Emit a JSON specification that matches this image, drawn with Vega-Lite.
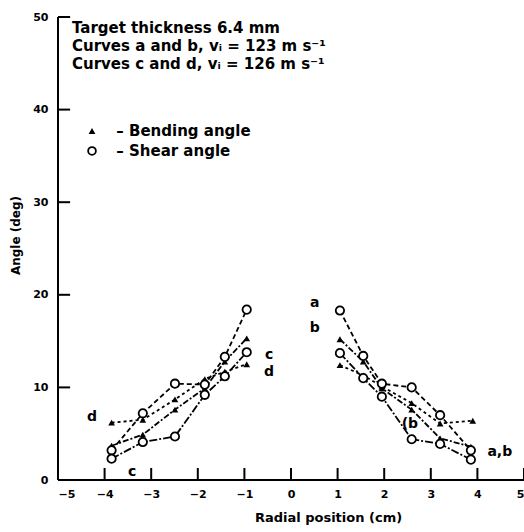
{
  "$schema": "https://vega.github.io/schema/vega-lite/v6.json",
  "width": 466,
  "height": 463,
  "autosize": "none",
  "padding": {"left": 58, "top": 17, "right": 0, "bottom": 52},
  "background": "white",
  "config": {
    "view": {"stroke": null},
    "axis": {
      "grid": false,
      "labelColor": "black",
      "titleColor": "black",
      "labelFont": "DejaVu Sans",
      "titleFont": "DejaVu Sans",
      "labelFontWeight": "bold",
      "titleFontWeight": "bold"
    }
  },
  "datasets": {
    "pts": [
      {"curve": "a", "side": "L", "marker": "circle", "x": -3.85, "y": 3.2},
      {"curve": "a", "side": "L", "marker": "circle", "x": -3.18, "y": 7.2},
      {"curve": "a", "side": "L", "marker": "circle", "x": -2.49, "y": 10.4},
      {"curve": "a", "side": "L", "marker": "circle", "x": -1.85, "y": 10.3},
      {"curve": "a", "side": "L", "marker": "circle", "x": -1.42, "y": 13.3},
      {"curve": "a", "side": "L", "marker": "circle", "x": -0.95, "y": 18.4},
      {"curve": "a", "side": "R", "marker": "circle", "x": 1.05, "y": 18.3},
      {"curve": "a", "side": "R", "marker": "circle", "x": 1.55, "y": 13.4},
      {"curve": "a", "side": "R", "marker": "circle", "x": 1.95, "y": 10.4},
      {"curve": "a", "side": "R", "marker": "circle", "x": 2.59, "y": 10.0},
      {"curve": "a", "side": "R", "marker": "circle", "x": 3.2, "y": 7.0},
      {"curve": "a", "side": "R", "marker": "circle", "x": 3.86, "y": 3.2},
      {"curve": "b", "side": "L", "marker": "triangle", "x": -3.85, "y": 3.7},
      {"curve": "b", "side": "L", "marker": "triangle", "x": -3.18, "y": 4.9},
      {"curve": "b", "side": "L", "marker": "triangle", "x": -2.49, "y": 7.6},
      {"curve": "b", "side": "L", "marker": "triangle", "x": -1.85, "y": 9.9},
      {"curve": "b", "side": "L", "marker": "triangle", "x": -1.42, "y": 12.8},
      {"curve": "b", "side": "L", "marker": "triangle", "x": -0.95, "y": 15.3},
      {"curve": "b", "side": "R", "marker": "triangle", "x": 1.05, "y": 15.2},
      {"curve": "b", "side": "R", "marker": "triangle", "x": 1.55, "y": 12.8},
      {"curve": "b", "side": "R", "marker": "triangle", "x": 1.95, "y": 9.9},
      {"curve": "b", "side": "R", "marker": "triangle", "x": 2.59, "y": 7.6},
      {"curve": "b", "side": "R", "marker": "triangle", "x": 3.2, "y": 4.5},
      {"curve": "b", "side": "R", "marker": "triangle", "x": 3.86, "y": 3.6},
      {"curve": "c", "side": "L", "marker": "circle", "x": -3.85, "y": 2.3},
      {"curve": "c", "side": "L", "marker": "circle", "x": -3.18, "y": 4.1},
      {"curve": "c", "side": "L", "marker": "circle", "x": -2.49, "y": 4.7},
      {"curve": "c", "side": "L", "marker": "circle", "x": -1.85, "y": 9.2},
      {"curve": "c", "side": "L", "marker": "circle", "x": -1.42, "y": 11.2},
      {"curve": "c", "side": "L", "marker": "circle", "x": -0.95, "y": 13.8},
      {"curve": "c", "side": "R", "marker": "circle", "x": 1.05, "y": 13.7},
      {"curve": "c", "side": "R", "marker": "circle", "x": 1.55, "y": 11.0},
      {"curve": "c", "side": "R", "marker": "circle", "x": 1.95, "y": 9.0},
      {"curve": "c", "side": "R", "marker": "circle", "x": 2.59, "y": 4.4},
      {"curve": "c", "side": "R", "marker": "circle", "x": 3.2, "y": 3.9},
      {"curve": "c", "side": "R", "marker": "circle", "x": 3.86, "y": 2.2},
      {"curve": "d", "side": "L", "marker": "triangle", "x": -3.85, "y": 6.2},
      {"curve": "d", "side": "L", "marker": "triangle", "x": -3.18, "y": 6.5},
      {"curve": "d", "side": "L", "marker": "triangle", "x": -2.49, "y": 8.7},
      {"curve": "d", "side": "L", "marker": "triangle", "x": -1.85, "y": 10.9},
      {"curve": "d", "side": "L", "marker": "triangle", "x": -1.42, "y": 11.7},
      {"curve": "d", "side": "L", "marker": "triangle", "x": -0.95, "y": 12.5},
      {"curve": "d", "side": "R", "marker": "triangle", "x": 1.05, "y": 12.4},
      {"curve": "d", "side": "R", "marker": "triangle", "x": 1.55, "y": 11.3},
      {"curve": "d", "side": "R", "marker": "triangle", "x": 1.95, "y": 10.1},
      {"curve": "d", "side": "R", "marker": "triangle", "x": 2.59, "y": 8.3},
      {"curve": "d", "side": "R", "marker": "triangle", "x": 3.2, "y": 6.1},
      {"curve": "d", "side": "R", "marker": "triangle", "x": 3.9, "y": 6.4}
    ],
    "axisLines": [{"axis": "x"}],
    "xticks": [{"v": -4}, {"v": -3}, {"v": -2}, {"v": -1}, {"v": 0}, {"v": 1}, {"v": 2}, {"v": 3}, {"v": 4}, {"v": 5}],
    "yticks": [{"v": 10}, {"v": 20}, {"v": 30}, {"v": 40}, {"v": 50}],
    "header": [
      {"x": -4.7, "y": 48.3, "t": "Target thickness 6.4 mm"},
      {"x": -4.7, "y": 46.36, "t": "Curves  a  and  b,  vᵢ = 123 m s⁻¹"},
      {"x": -4.7, "y": 44.38, "t": "Curves  c  and  d,  vᵢ = 126 m s⁻¹"}
    ],
    "legendText": [
      {"x": -3.75, "y": 37.69, "t": "–  Bending angle"},
      {"x": -3.75, "y": 35.53, "t": "–  Shear angle"}
    ],
    "legendMarks": [
      {"x": -4.27, "y": 37.69, "marker": "triangle"},
      {"x": -4.27, "y": 35.53, "marker": "circle"}
    ],
    "labels": [
      {"x": 0.51, "y": 19.1, "t": "a"},
      {"x": 0.51, "y": 16.4, "t": "b"},
      {"x": -0.47, "y": 13.5, "t": "c"},
      {"x": -0.47, "y": 11.7, "t": "d"},
      {"x": 4.48, "y": 3.0, "t": "a,b"},
      {"x": 2.55, "y": 6.1, "t": "(b"},
      {"x": -4.27, "y": 6.8, "t": "d"},
      {"x": -3.41, "y": 0.9, "t": "c"}
    ]
  },
  "layer": [
    {
      "data": {"name": "pts"},
      "mark": {"type": "line", "color": "black", "strokeWidth": 1.8},
      "encoding": {
        "x": {
          "field": "x", "type": "quantitative",
          "scale": {"domain": [-5, 5], "nice": false, "zero": false},
          "axis": {
            "values": [-5, -4, -3, -2, -1, 0, 1, 2, 3, 4, 5],
            "domain": false,
            "ticks": false,
            "labelPadding": 8,
            "labelFontSize": 11,
            "title": "Radial position (cm)",
            "titleFontSize": 13,
            "titleX": 270,
            "titlePadding": 12
          }
        },
        "y": {
          "field": "y", "type": "quantitative",
          "scale": {"domain": [0, 50], "nice": false, "zero": false},
          "axis": {
            "values": [0, 10, 20, 30, 40, 50],
            "domain": false,
            "ticks": false,
            "labelPadding": 10,
            "labelFontSize": 11,
            "title": "Angle (deg)",
            "titleFontSize": 12,
            "titleY": 218,
            "titlePadding": 10
          }
        },
        "detail": {"field": "side"},
        "strokeDash": {
          "field": "curve", "type": "nominal",
          "scale": {"domain": ["a", "b", "c", "d"], "range": [[5, 3], [6, 2, 2, 2], [8, 2, 2, 2], [3, 3]]},
          "legend": null
        }
      }
    },
    {
      "data": {"name": "axisLines"},
      "mark": {"type": "rule", "color": "black", "strokeWidth": 2},
      "encoding": {
        "x": {"datum": -5, "type": "quantitative"},
        "x2": {"datum": 5},
        "y": {"datum": 0, "type": "quantitative"}
      }
    },
    {
      "data": {"name": "axisLines"},
      "mark": {"type": "rule", "color": "black", "strokeWidth": 2},
      "encoding": {
        "x": {"datum": -5, "type": "quantitative"},
        "y": {"datum": 0, "type": "quantitative"},
        "y2": {"datum": 50}
      }
    },
    {
      "data": {"name": "xticks"},
      "mark": {"type": "rule", "color": "black", "strokeWidth": 2},
      "encoding": {
        "x": {"field": "v", "type": "quantitative"},
        "y": {"datum": 0, "type": "quantitative"},
        "y2": {"datum": 1.3}
      }
    },
    {
      "data": {"name": "yticks"},
      "mark": {"type": "rule", "color": "black", "strokeWidth": 2},
      "encoding": {
        "y": {"field": "v", "type": "quantitative"},
        "x": {"datum": -5, "type": "quantitative"},
        "x2": {"datum": -4.74}
      }
    },
    {
      "data": {"name": "pts"},
      "transform": [{"filter": "datum.marker === 'triangle'"}],
      "mark": {"type": "point", "shape": "triangle-up", "filled": true, "color": "black", "size": 45, "opacity": 1},
      "encoding": {
        "x": {"field": "x", "type": "quantitative"},
        "y": {"field": "y", "type": "quantitative"}
      }
    },
    {
      "data": {"name": "pts"},
      "transform": [{"filter": "datum.marker === 'circle'"}],
      "mark": {"type": "point", "shape": "circle", "filled": false, "fill": "white", "stroke": "black", "strokeWidth": 1.8, "size": 70, "opacity": 1, "fillOpacity": 1},
      "encoding": {
        "x": {"field": "x", "type": "quantitative"},
        "y": {"field": "y", "type": "quantitative"}
      }
    },
    {
      "data": {"name": "legendMarks"},
      "transform": [{"filter": "datum.marker === 'triangle'"}],
      "mark": {"type": "point", "shape": "triangle-up", "filled": true, "color": "black", "size": 45, "opacity": 1},
      "encoding": {
        "x": {"field": "x", "type": "quantitative"},
        "y": {"field": "y", "type": "quantitative"}
      }
    },
    {
      "data": {"name": "legendMarks"},
      "transform": [{"filter": "datum.marker === 'circle'"}],
      "mark": {"type": "point", "shape": "circle", "filled": false, "fill": "white", "stroke": "black", "strokeWidth": 1.8, "size": 60, "opacity": 1},
      "encoding": {
        "x": {"field": "x", "type": "quantitative"},
        "y": {"field": "y", "type": "quantitative"}
      }
    },
    {
      "data": {"name": "header"},
      "mark": {"type": "text", "align": "left", "baseline": "alphabetic", "font": "DejaVu Sans", "fontSize": 15, "fontWeight": "bold", "color": "black"},
      "encoding": {
        "x": {"field": "x", "type": "quantitative"},
        "y": {"field": "y", "type": "quantitative"},
        "text": {"field": "t"}
      }
    },
    {
      "data": {"name": "legendText"},
      "mark": {"type": "text", "align": "left", "baseline": "middle", "font": "DejaVu Sans", "fontSize": 15, "fontWeight": "bold", "color": "black"},
      "encoding": {
        "x": {"field": "x", "type": "quantitative"},
        "y": {"field": "y", "type": "quantitative"},
        "text": {"field": "t"}
      }
    },
    {
      "data": {"name": "labels"},
      "mark": {"type": "text", "align": "center", "baseline": "middle", "font": "DejaVu Sans", "fontSize": 14, "fontWeight": "bold", "color": "black"},
      "encoding": {
        "x": {"field": "x", "type": "quantitative"},
        "y": {"field": "y", "type": "quantitative"},
        "text": {"field": "t"}
      }
    }
  ]
}
